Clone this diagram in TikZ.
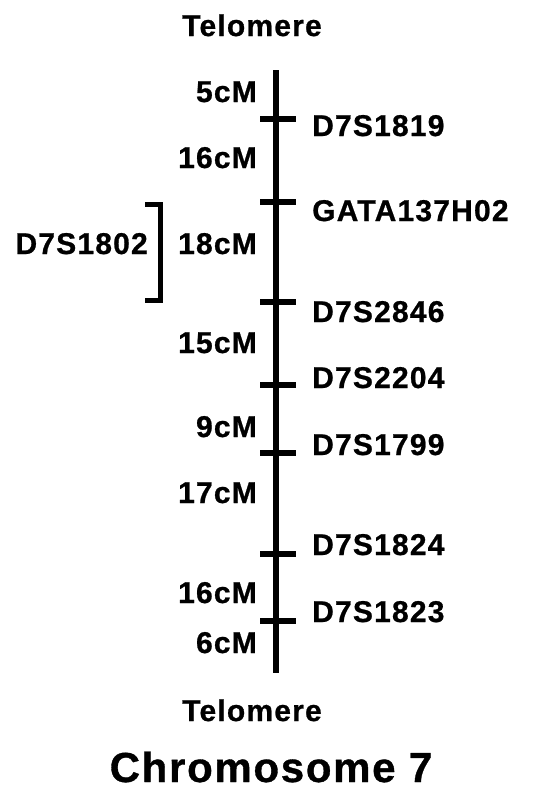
\documentclass[tikz,border=0pt]{standalone}
\usepackage{fontspec}
\setmainfont{Liberation Sans}
\newfontfamily\labfont[LetterSpace=4,FakeBold=0.8]{Liberation Sans Bold}
\begin{document}
\begin{tikzpicture}[x=1pt,y=-1pt,
  lab/.style={font=\labfont\fontsize{30}{30}\selectfont, inner sep=0pt, text=black},
  dist/.style={lab, anchor=base east},
  marker/.style={lab, anchor=base west},
  axis/.style={line width=6pt, black},
  tick/.style={line width=6pt, black},
  brace/.style={line width=5pt, black}]
\useasboundingbox (0,0) rectangle (546,790);

% chromosome axis
\coordinate (top) at (276,70);
\coordinate (bot) at (276,673);
\draw[axis] (top) -- (bot);

% marker ticks and names
\foreach \nm/\y/\dy/\txt in {m1/119/17/D7S1819, m2/202/19/GATA137H02, m3/302/20/D7S2846,
  m4/385/3/D7S2204, m5/453/2/D7S1799, m6/554/1/D7S1824, m7/621/1/D7S1823}{
  \coordinate (\nm l) at (260,\y);
  \coordinate (\nm r) at (296,\y);
  \draw[tick] (\nm l) -- (\nm r);
  \node[marker] (\nm) at (312,\y+\dy) {\txt};
}

% genetic distances
\node[dist] (d1) at (257,102) {5cM};
\node[dist] (d2) at (257,168) {16cM};
\node[dist] (d3) at (257,254) {18cM};
\node[dist] (d4) at (257,353) {15cM};
\node[dist] (d5) at (257,437) {9cM};
\node[dist] (d6) at (257,503) {17cM};
\node[dist] (d7) at (257,603) {16cM};
\node[dist] (d8) at (257,653) {6cM};

% interval bracket
\coordinate (b1) at (145,204);
\coordinate (b2) at (160,204);
\coordinate (b3) at (160,300);
\coordinate (b4) at (145,300);
\draw[brace, line cap=butt] (b1) -- (b2) -- (b3) -- (b4);
\node[dist] (br) at (148,254) {D7S1802};

% ends and title
\node[lab, anchor=base] (tel1) at (252,36) {Telomere};
\node[lab, anchor=base] (tel2) at (252,721) {Telomere};
\node[font=\labfont\fontsize{42}{42}\selectfont, inner sep=0pt, anchor=base] (title) at (271,782) {Chromosome 7};
\end{tikzpicture}
\end{document}
